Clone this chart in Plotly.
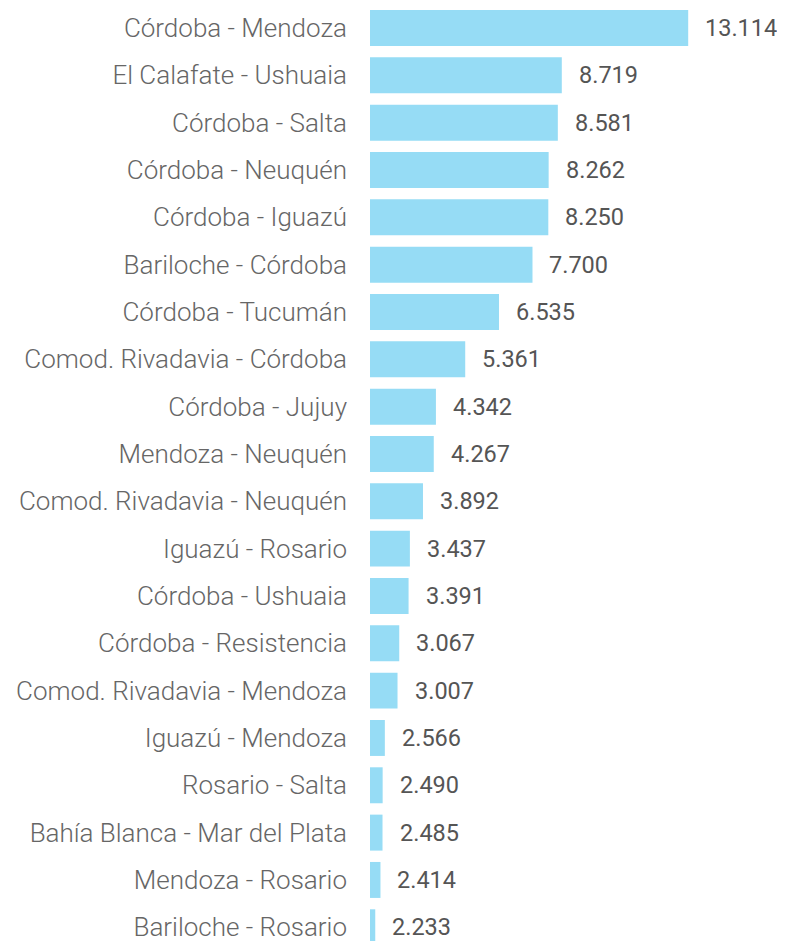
import plotly.graph_objects as go

categories = [
    "Córdoba - Mendoza", "El Calafate - Ushuaia", "Córdoba - Salta", "Córdoba - Neuquén",
    "Córdoba - Iguazú", "Bariloche - Córdoba", "Córdoba - Tucumán", "Comod. Rivadavia - Córdoba",
    "Córdoba - Jujuy", "Mendoza - Neuquén", "Comod. Rivadavia - Neuquén", "Iguazú - Rosario",
    "Córdoba - Ushuaia", "Córdoba - Resistencia", "Comod. Rivadavia - Mendoza", "Iguazú - Mendoza",
    "Rosario - Salta", "Bahía Blanca - Mar del Plata", "Mendoza - Rosario", "Bariloche - Rosario",
]
values = [13114, 8719, 8581, 8262, 8250, 7700, 6535, 5361, 4342, 4267,
          3892, 3437, 3391, 3067, 3007, 2566, 2490, 2485, 2414, 2233]

def fmt(v):
    return f"{v:,}".replace(",", ".")

labels = [fmt(v) for v in values]

x0 = 2050
fig = go.Figure(go.Bar(
    x=[v - x0 for v in values],
    base=x0,
    y=categories,
    orientation="h",
    marker=dict(color="#96DCF5", line=dict(width=0)),
    width=0.76,
    hoverinfo="skip",
))

for c, v, t in zip(categories, values, labels):
    fig.add_annotation(x=v, y=c, text=t, xanchor="left", yanchor="middle",
                       xshift=15, showarrow=False,
                       font=dict(family="Roboto", size=23.5, color="#555555"))

fig.update_layout(
    width=777, height=933,
    margin=dict(l=362, r=0, t=0, b=0),
    paper_bgcolor="white", plot_bgcolor="white",
    showlegend=False,
)
fig.update_xaxes(range=[x0, 16480], visible=False, showgrid=False, zeroline=False)
fig.update_yaxes(
    type="category", categoryorder="array", categoryarray=categories,
    range=[19.29, -0.4226], showgrid=False, zeroline=False, showline=False,
    ticks="", ticklabelstandoff=22,
    tickfont=dict(family="Roboto Light, Roboto", size=26, color="#666666", weight=300),
)

fig.write_html("out.html")
